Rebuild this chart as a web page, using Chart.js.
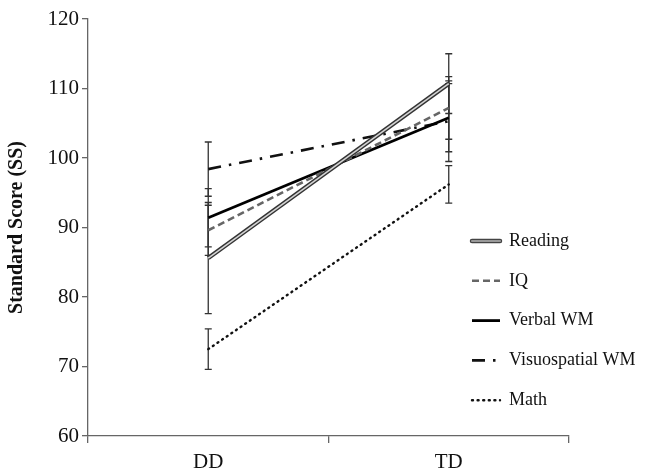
<!DOCTYPE html>
<html>
<head>
<meta charset="utf-8">
<script src="https://cdn.jsdelivr.net/npm/chart.js@4.4.1/dist/chart.umd.min.js"></script>
<style>
html,body{margin:0;padding:0;background:#fff;}
#wrap{width:649px;height:472px;}
</style>
</head>
<body>
<div id="wrap"><canvas id="c" width="649" height="472"></canvas></div>
<script>
const categories = ['DD', 'TD'];
const yTicks = [60, 70, 80, 90, 100, 110, 120];
const readingMeans = [85.6, 110.7];
const readingErr = [8.0, 4.3];
const iqMeans = [89.6, 107.2];
const iqErr = [3.6, 4.5];
const verbalMeans = [91.4, 105.8];
const verbalErr = [4.2, 4.9];
const visuoMeans = [98.4, 105.3];
const visuoErr = [3.9, 5.8];
const mathMeans = [72.5, 96.2];
const mathErr = [2.9, 2.7];
const legendLabels = ['Reading', 'IQ', 'Verbal WM', 'Visuospatial WM', 'Math'];

const FONT = "'Liberation Serif', 'DejaVu Serif', serif";

// Note: Chart.js draws the first dataset on top.
const datasets = [
  {label: 'reading-inner', data: readingMeans, borderColor: '#d4d4d4', borderWidth: 1.6, noLegend: true},
  {label: legendLabels[0], data: readingMeans, err: readingErr, borderColor: '#333', borderWidth: 4.4, legendKey: 'reading'},
  {label: legendLabels[1], data: iqMeans, err: iqErr, borderColor: '#666', borderWidth: 2.6, borderDash: [7, 4]},
  {label: legendLabels[2], data: verbalMeans, err: verbalErr, borderColor: '#000', borderWidth: 2.8},
  {label: legendLabels[3], data: visuoMeans, err: visuoErr, borderColor: '#111', borderWidth: 2.6, borderDash: [13, 8, 2.5, 8]},
  {label: legendLabels[4], data: mathMeans, err: mathErr, borderColor: '#111', borderWidth: 2.4, borderDash: [1, 4.6], borderCapStyle: 'round'}
].map(d => Object.assign({pointRadius: 0, fill: false, tension: 0}, d));

const errorBars = {
  id: 'errorBars',
  beforeDatasetsDraw(chart) {
    const ctx = chart.ctx;
    const x = chart.scales.x, y = chart.scales.y;
    ctx.save();
    ctx.strokeStyle = '#333';
    ctx.lineWidth = 1.3;
    chart.data.datasets.forEach(ds => {
      if (!ds.err) return;
      ds.data.forEach((m, i) => {
        const px = x.getPixelForValue(i);
        const top = y.getPixelForValue(m + ds.err[i]);
        const bot = y.getPixelForValue(m - ds.err[i]);
        ctx.beginPath();
        ctx.moveTo(px, top); ctx.lineTo(px, bot);
        ctx.moveTo(px - 3.5, top); ctx.lineTo(px + 3.5, top);
        ctx.moveTo(px - 3.5, bot); ctx.lineTo(px + 3.5, bot);
        ctx.stroke();
      });
    });
    ctx.restore();
  }
};

const customLegend = {
  id: 'customLegend',
  afterDraw(chart) {
    const ctx = chart.ctx;
    const items = chart.data.datasets.filter(d => !d.noLegend);
    const x0 = 472, x1 = 500, tx = 509, y0 = 241, gap = 39.8;
    ctx.save();
    items.forEach((ds, k) => {
      const yy = y0 + k * gap;
      ctx.setLineDash([]);
      if (ds.legendKey === 'reading') {
        ctx.lineCap = 'round';
        ctx.strokeStyle = '#444'; ctx.lineWidth = 4.5;
        ctx.beginPath(); ctx.moveTo(x0, yy); ctx.lineTo(x1, yy); ctx.stroke();
        ctx.strokeStyle = '#999'; ctx.lineWidth = 2.2;
        ctx.beginPath(); ctx.moveTo(x0, yy); ctx.lineTo(x1, yy); ctx.stroke();
      } else {
        ctx.lineCap = ds.borderCapStyle || 'butt';
        ctx.strokeStyle = ds.borderColor; ctx.lineWidth = ds.borderWidth;
        ctx.setLineDash(ds.borderDash || []);
        ctx.beginPath(); ctx.moveTo(x0, yy); ctx.lineTo(x1, yy); ctx.stroke();
      }
      ctx.setLineDash([]);
      ctx.fillStyle = '#111';
      ctx.font = '18px ' + FONT;
      ctx.textBaseline = 'middle';
      ctx.textAlign = 'left';
      ctx.fillText(ds.label, tx, yy);
    });
    ctx.restore();
  }
};

new Chart(document.getElementById('c'), {
  type: 'line',
  data: {labels: categories, datasets: datasets},
  options: {
    responsive: false,
    devicePixelRatio: 1,
    animation: false,
    layout: {padding: {top: 19, right: 80, left: 5, bottom: 0}},
    plugins: {legend: {display: false}, tooltip: {enabled: false}},
    scales: {
      x: {
        offset: true,
        grid: {offset: true, drawOnChartArea: false, drawTicks: true, tickLength: 7, color: '#666', lineWidth: 1.3},
        border: {color: '#666', width: 1.3},
        ticks: {color: '#111', font: {family: FONT, size: 21}, padding: 7},
        afterFit(s) { s.height = 36; }
      },
      y: {
        min: 60, max: 120,
        afterBuildTicks(s) { s.ticks = yTicks.map(v => ({value: v})); },
        grid: {drawOnChartArea: false, drawTicks: true, tickLength: 6, color: '#666', lineWidth: 1.3},
        border: {color: '#666', width: 1.3},
        ticks: {color: '#111', font: {family: FONT, size: 21}, padding: 3},
        title: {display: true, text: 'Standard Score (SS)', color: '#111', font: {family: FONT, size: 20, weight: 'bold'}, padding: {top: 0, bottom: 2}},
        afterFit(s) { s.width = 83; }
      }
    }
  },
  plugins: [errorBars, customLegend]
});
</script>
</body>
</html>
